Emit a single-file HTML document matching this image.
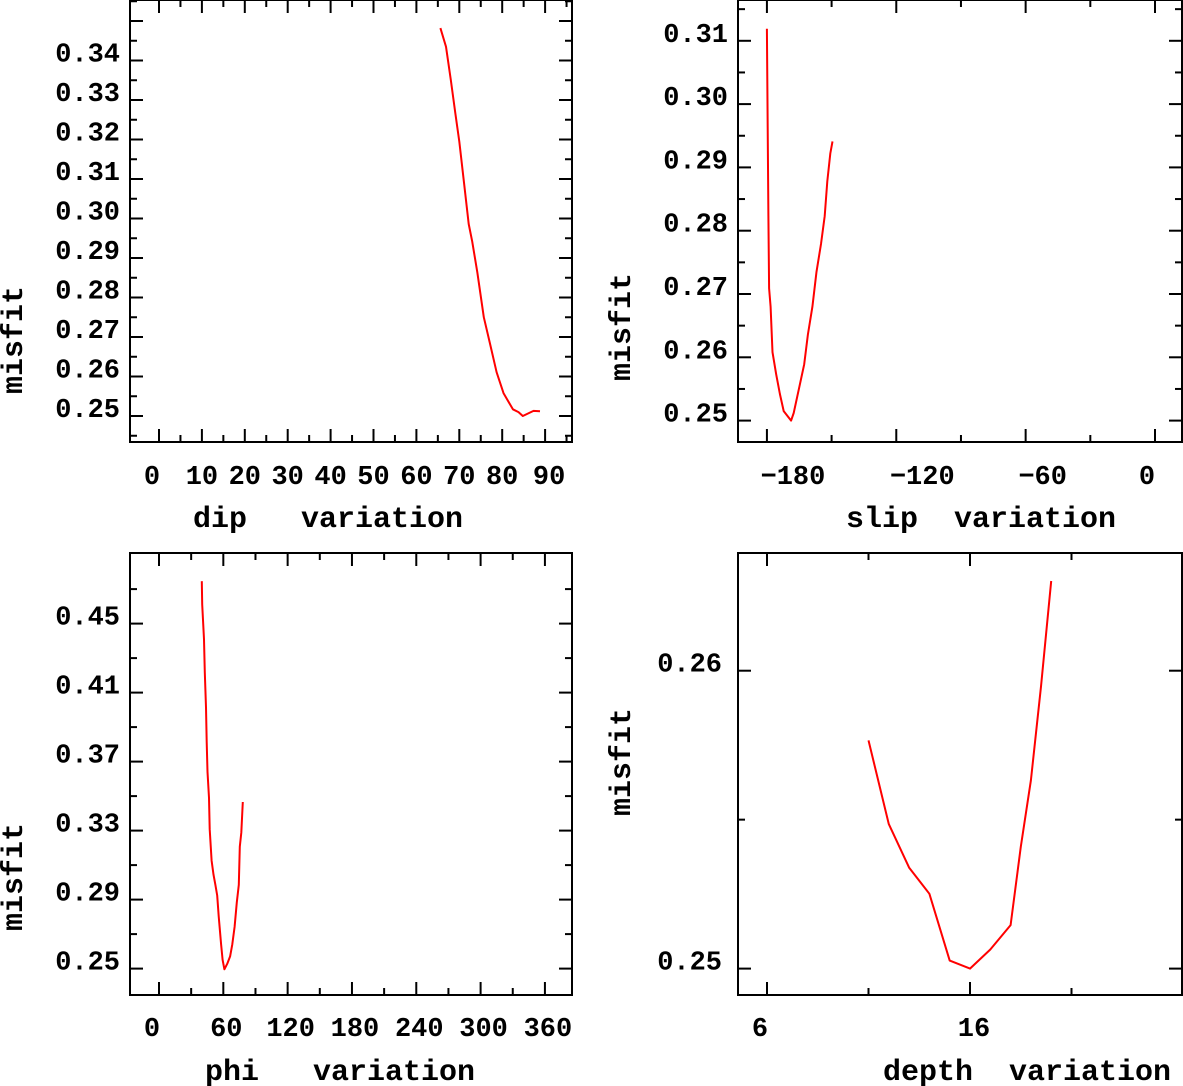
<!DOCTYPE html>
<html><head><meta charset="utf-8">
<style>
html,body{margin:0;padding:0;background:#fff;}
svg{display:block;}
text{font-family:"Liberation Mono","DejaVu Sans Mono",monospace;font-weight:bold;fill:#000;white-space:pre;}
</style></head>
<body>
<svg id="chart" width="1183" height="1086" viewBox="0 0 1183 1086" xmlns="http://www.w3.org/2000/svg"></svg>
<script>
// ---- data ----
const dipX = [65.6,66.9,68.0,69.1,70.0,71.1,72.2,73.0,74.2,75.7,77.2,78.7,80.3,82.5,83.8,84.8,87.3,88.8];
const dipY = [0.3482,0.3435,0.3353,0.3265,0.3195,0.3091,0.2986,0.2942,0.2864,0.2750,0.2681,0.2611,0.2558,0.2517,0.2510,0.2500,0.2513,0.2512];
const dipXTicks = [0,10,20,30,40,50,60,70,80,90];
const dipYTicks = [0.25,0.26,0.27,0.28,0.29,0.30,0.31,0.32,0.33,0.34];

const slipX = [-180,-179.8,-179.3,-179.0,-178.3,-177.4,-175.7,-174.0,-172.2,-168.8,-167.6,-165.0,-162.7,-161.0,-158.9,-157.0,-154.9,-153.2,-152.0,-150.6,-149.6];
const slipY = [0.3119,0.3020,0.2823,0.2709,0.2680,0.2608,0.2573,0.2542,0.2515,0.2500,0.2512,0.2553,0.2589,0.2636,0.2680,0.2735,0.2779,0.2823,0.2878,0.2922,0.2941];
const slipXTicks = [-180,-120,-60,0];
const slipYTicks = [0.25,0.26,0.27,0.28,0.29,0.30,0.31];

const phiX = [39.9,40.3,42.0,42.7,43.8,44.5,45.2,46.6,47.3,49.1,50.8,52.6,54.3,55.7,57.9,59.3,61.0,63.8,66.3,68.4,70.5,72.6,74.4,75.4,76.8,78.2];
const phiY = [0.4746,0.4611,0.4409,0.4217,0.4015,0.3813,0.3641,0.3490,0.3308,0.3126,0.3045,0.2985,0.2924,0.2803,0.2641,0.2551,0.2496,0.2530,0.2571,0.2641,0.2742,0.2884,0.2985,0.3207,0.3288,0.3466];
const phiXTicks = [0,60,120,180,240,300,360];
const phiYTicks = [0.25,0.29,0.33,0.37,0.41,0.45];

const depthX = [11,12,13,14,15,16,17,18,18.5,19,19.5,20];
const depthY = [0.25766,0.25485,0.25339,0.25251,0.25027,0.25,0.25064,0.25146,0.25409,0.25632,0.25947,0.26301];
const depthXTicks = [6,16];
const depthYTicks = [0.25,0.26];

const NS = "http://www.w3.org/2000/svg";
const svg = document.getElementById('chart');
function mk(tag, attrs, parent){
  const e = document.createElementNS(NS, tag);
  for (const k in attrs) e.setAttribute(k, attrs[k]);
  (parent||svg).appendChild(e);
  return e;
}

function panel(cfg){
  const g = mk('g', {});
  
  
  const L=cfg.L,R=cfg.R,T=cfg.T,B=cfg.B;
  const fr = mk('rect',{x:L,y:T,width:R-L,height:B-T,fill:'none',stroke:'#000','stroke-width':2},g);
  
  
  const xt = mk('g',{},g);
  
  
  for (let v = cfg.xMin; v <= cfg.xMax + 1e-9; v += cfg.xMinor){
    const x = cfg.xs(v);
    const major = Math.abs(((v - cfg.xTickLabels[0]) / cfg.xMajor) - Math.round((v - cfg.xTickLabels[0]) / cfg.xMajor)) < 1e-6;
    const len = major ? 13 : 7;
    mk('line',{x1:x,x2:x,y1:B,y2:B-len,stroke:'#000','stroke-width':2},xt);
    mk('line',{x1:x,x2:x,y1:T,y2:T+len,stroke:'#000','stroke-width':2},xt);
  }
  const yt = mk('g',{},g);
  
  
  for (let v = cfg.yMin; v <= cfg.yMax + 1e-9; v += cfg.yMinor){
    const y = cfg.ys(v);
    if (y < T || y > B) continue;
    const major = Math.abs(((v - cfg.yTickLabels[0]) / cfg.yMajor) - Math.round((v - cfg.yTickLabels[0]) / cfg.yMajor)) < 1e-6;
    const len = major ? 13 : 7;
    mk('line',{x1:L,x2:L+len,y1:y,y2:y,stroke:'#000','stroke-width':2},yt);
    mk('line',{x1:R,x2:R-len,y1:y,y2:y,stroke:'#000','stroke-width':2},yt);
  }
  cfg.xTickLabels.forEach(v=>{
    const t = mk('text',{x:cfg.xs(v)+(cfg.xLabOff?cfg.xLabOff(v):0),y:cfg.xLabY,'font-size':27,'text-anchor':'middle'},g);
    t.textContent = v < 0 ? '\u2212' + Math.abs(v) : String(v);
    
    
  });
  cfg.yTickLabels.forEach(v=>{
    const t = mk('text',{x:cfg.yLabX,y:cfg.ys(v)+1,'font-size':27,'text-anchor':'end'},g);
    t.textContent = v.toFixed(2);
    
    
  });
  const xt1 = mk('text',{x:cfg.xTitleX,y:cfg.xTitleY,'font-size':30},g);
  xt1.textContent = cfg.xTitle;
  
  
  const yt1 = mk('text',{x:0,y:0,'font-size':30,'text-anchor':'middle',transform:'translate('+cfg.yTitleX+','+cfg.yTitleY+') rotate(-90)'},g);
  yt1.textContent = 'misfit';
  
  
  const pts = cfg.X.map((x,i)=>cfg.xs(x).toFixed(1)+','+cfg.ys(cfg.Y[i]).toFixed(1)).join(' ');
  const pl = mk('polyline',{points:pts,fill:'none',stroke:'#ff0000','stroke-width':2,'stroke-linejoin':'round'},g);
  
  
}

panel({name:'dip',L:130,R:572,T:0,B:442,
  xs:v=>159+v*4.29, ys:v=>416-(v-0.25)*3950,
  xMin:0,xMax:95,xMinor:5,xMajor:10,yMin:0.245,yMax:0.36,yMinor:0.005,yMajor:0.01,
  X:dipX,Y:dipY,xTickLabels:dipXTicks,yTickLabels:dipYTicks,
  xLabY:484,yLabX:120,xLabOff:v=>(v===0?-7:(v===90?4:0)),
  xTitle:'dip   variation',xTitleX:193,xTitleY:527,yTitleX:22,yTitleY:340});

panel({name:'slip',L:738,R:1182,T:0,B:442,
  xs:v=>1155+v*2.156, ys:v=>420.6-(v-0.25)*6330,
  xMin:-180,xMax:0,xMinor:30,xMajor:60,yMin:0.245,yMax:0.32,yMinor:0.005,yMajor:0.01,
  X:slipX,Y:slipY,xTickLabels:slipXTicks,yTickLabels:slipYTicks,
  xLabY:484,yLabX:728,xLabOff:v=>(v===0?-8:(v===-60?17:26)),
  xTitle:'slip  variation',xTitleX:846,xTitleY:527,yTitleX:630,yTitleY:327});

panel({name:'phi',L:130,R:572,T:553,B:995,
  xs:v=>159+v*1.072, ys:v=>968.6-(v-0.25)*1725,
  xMin:0,xMax:360,xMinor:30,xMajor:60,yMin:0.23,yMax:0.48,yMinor:0.02,yMajor:0.04,
  X:phiX,Y:phiY,xTickLabels:phiXTicks,yTickLabels:phiYTicks,
  xLabY:1036,yLabX:120,xLabOff:v=>(v===0?-7:3),
  xTitle:'phi   variation',xTitleX:205,xTitleY:1080,yTitleX:22,yTitleY:877});

panel({name:'depth',L:738,R:1182,T:553,B:995,
  xs:v=>767+(v-6)*20.3, ys:v=>968.6-(v-0.25)*29790,
  xMin:6,xMax:21,xMinor:5,xMajor:10,yMin:0.245,yMax:0.265,yMinor:0.005,yMajor:0.01,
  X:depthX,Y:depthY,xTickLabels:depthXTicks,yTickLabels:depthYTicks,
  xLabY:1036,yLabX:722,xLabOff:v=>(v===6?-7:4),
  xTitle:'depth  variation',xTitleX:883,xTitleY:1080,yTitleX:630,yTitleY:762});
</script>
</body></html>
